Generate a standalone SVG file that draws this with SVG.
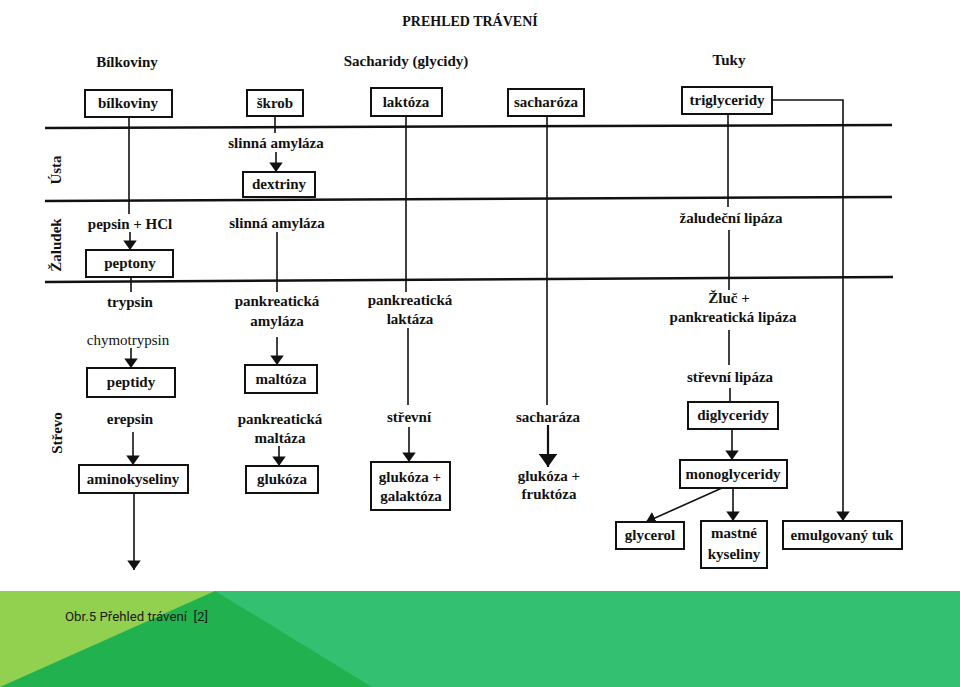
<svg xmlns="http://www.w3.org/2000/svg" width="960" height="687" viewBox="0 0 960 687">
<style>
text{font-family:"Liberation Serif","Times New Roman",serif;font-size:15px;font-weight:bold;fill:#111;text-anchor:middle}
.thin{font-weight:normal}
.title{font-size:14px}
.box{fill:#fff;stroke:#111;stroke-width:2}
.sep{stroke:#111;stroke-width:2.5;fill:none}
.ln{stroke:#111;stroke-width:1.6;fill:none}
.ar{stroke:#111;stroke-width:1.6;fill:none;marker-end:url(#ah)}
.cap{font-family:"Roboto","Liberation Sans",sans-serif;font-size:13px;font-weight:normal;text-anchor:start;fill:#1a1a1a}
</style>
<defs>
<marker id="ah" viewBox="0 0 10 14" refX="10" refY="7" markerWidth="6" markerHeight="8.4" orient="auto" markerUnits="strokeWidth">
<path d="M0,0 L10,7 L0,14 Z" fill="#111"/>
</marker>
</defs>
<rect width="960" height="687" fill="#fff"/>

<g id="headers">
<text class="title" x="470" y="26">PREHLED TRÁVENÍ</text>
<text x="127" y="67">Bílkoviny</text>
<text x="406" y="66">Sacharidy (glycidy)</text>
<text x="729" y="65">Tuky</text>
</g>

<g id="zones">
<line class="sep" x1="45" y1="128" x2="892" y2="125"/>
<line class="sep" x1="45" y1="201" x2="892" y2="197"/>
<line class="sep" x1="45" y1="282" x2="893" y2="277"/>
<text transform="translate(61,170) rotate(-90)">Ústa</text>
<text transform="translate(61,245) rotate(-90)">Žaludek</text>
<text transform="translate(62,433) rotate(-90)">Střevo</text>
</g>

<g id="connectors">
<line class="ln" x1="129" y1="117" x2="129" y2="214"/>
<line class="ar" x1="130" y1="232" x2="130" y2="250"/>
<line class="ln" x1="131" y1="277" x2="131" y2="292"/>
<line class="ar" x1="131" y1="348" x2="131" y2="368"/>
<line class="ar" x1="133" y1="432" x2="133" y2="465"/>
<line class="ar" x1="134" y1="493" x2="134" y2="570"/>
<line class="ln" x1="275" y1="116" x2="275" y2="133"/>
<line class="ar" x1="276" y1="152" x2="276" y2="172"/>
<line class="ln" x1="277" y1="232" x2="277" y2="292"/>
<line class="ar" x1="277" y1="337" x2="277" y2="365"/>
<line class="ar" x1="279" y1="446" x2="279" y2="466"/>
<line class="ln" x1="406" y1="116" x2="406" y2="292"/>
<line class="ln" x1="408" y1="328" x2="408" y2="405"/>
<line class="ar" x1="409" y1="427" x2="409" y2="462"/>
<line class="ln" x1="547" y1="116" x2="547" y2="405"/>
<line class="ar" x1="548" y1="425" x2="548" y2="467" style="stroke-width:2.2"/>
<line class="ln" x1="728" y1="114" x2="728" y2="207"/>
<line class="ln" x1="729" y1="230" x2="729" y2="290"/>
<line class="ln" x1="729" y1="330" x2="729" y2="365"/>
<line class="ln" x1="730" y1="388" x2="730" y2="402"/>
<line class="ar" x1="732" y1="429" x2="732" y2="460"/>
<line class="ar" x1="722" y1="488" x2="646" y2="522"/>
<line class="ar" x1="733" y1="488" x2="733" y2="521"/>
<path class="ar" d="M772,100 H843 V521"/>
</g>

<g id="labels">
<text x="276" y="148">slinná amyláza</text>
<text x="277" y="228">slinná amyláza</text>
<text x="130" y="229">pepsin + HCl</text>
<text x="731" y="223">žaludeční lipáza</text>
<text x="130" y="307">trypsin</text>
<text class="thin" x="128" y="345">chymotrypsin</text>
<text x="130" y="424">erepsin</text>
<text x="277" y="306">pankreatická</text>
<text x="277" y="326">amyláza</text>
<text x="280" y="424">pankreatická</text>
<text x="280" y="443">maltáza</text>
<text x="410" y="305">pankreatická</text>
<text x="410" y="324">laktáza</text>
<text x="409" y="422">střevní</text>
<text x="548" y="422">sacharáza</text>
<text x="549" y="481">glukóza +</text>
<text x="549" y="499">fruktóza</text>
<text x="729" y="303">Žluč +</text>
<text x="733" y="322">pankreatická lipáza</text>
<text x="730" y="382">střevní lipáza</text>
</g>

<g id="n-bilkoviny"><rect class="box" x="85" y="90" width="87" height="27"/><text x="128" y="108">bílkoviny</text></g>
<g id="n-skrob"><rect class="box" x="247" y="90" width="56" height="26"/><text x="275" y="108">škrob</text></g>
<g id="n-laktoza"><rect class="box" x="371" y="88" width="71" height="28"/><text x="406" y="107">laktóza</text></g>
<g id="n-sacharoza"><rect class="box" x="508" y="89" width="76" height="27"/><text x="546" y="107">sacharóza</text></g>
<g id="n-triglyceridy"><rect class="box" x="682" y="87" width="90" height="27"/><text x="727" y="105">triglyceridy</text></g>
<g id="n-dextriny"><rect class="box" x="243" y="172" width="72" height="25"/><text x="279" y="189">dextriny</text></g>
<g id="n-peptony"><rect class="box" x="86" y="250" width="87" height="27"/><text x="130" y="268">peptony</text></g>
<g id="n-peptidy"><rect class="box" x="87" y="368" width="88" height="29"/><text x="131" y="387">peptidy</text></g>
<g id="n-maltoza"><rect class="box" x="245" y="365" width="72" height="28"/><text x="281" y="384">maltóza</text></g>
<g id="n-aminokyseliny"><rect class="box" x="79" y="465" width="109" height="28"/><text x="133" y="484">aminokyseliny</text></g>
<g id="n-glukoza"><rect class="box" x="246" y="466" width="72" height="27"/><text x="282" y="484">glukóza</text></g>
<g id="n-glukoza-galaktoza"><rect class="box" x="371" y="462" width="79" height="48"/><text x="410" y="482">glukóza +</text><text x="411" y="501">galaktóza</text></g>
<g id="n-diglyceridy"><rect class="box" x="688" y="402" width="90" height="27"/><text x="733" y="420">diglyceridy</text></g>
<g id="n-monoglyceridy"><rect class="box" x="680" y="460" width="107" height="28"/><text x="733" y="479">monoglyceridy</text></g>
<g id="n-glycerol"><rect class="box" x="616" y="522" width="68" height="27"/><text x="650" y="540">glycerol</text></g>
<g id="n-mastne"><rect class="box" x="701" y="521" width="66" height="47"/><text x="734" y="538">mastné</text><text x="734" y="559">kyseliny</text></g>
<g id="n-emulgovany"><rect class="box" x="783" y="521" width="119" height="28"/><text x="842" y="540">emulgovaný tuk</text></g>

<g id="footer">
<rect x="0" y="591" width="960" height="96" fill="#33C071"/>
<polygon points="0,591 215,591 372,687 0,687" fill="#21B24F"/>
<polygon points="0,591 215,591 0,687" fill="#92D050"/>
<text class="cap" x="65" y="621" textLength="143" lengthAdjust="spacingAndGlyphs">Obr.5 Přehled trávení&#160; [2]</text>
</g>
</svg>
